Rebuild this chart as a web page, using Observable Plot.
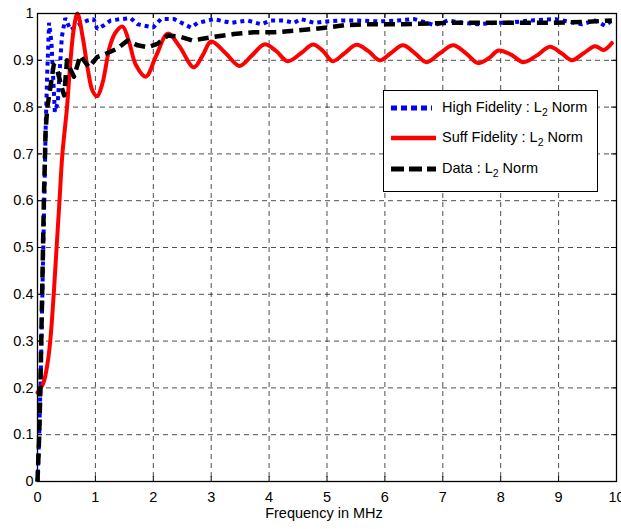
<!DOCTYPE html>
<html>
<head>
<meta charset="utf-8">
<script src="https://cdn.jsdelivr.net/npm/d3@7"></script>
<script src="https://cdn.jsdelivr.net/npm/@observablehq/plot@0.6"></script>
<style>
  html, body { margin: 0; padding: 0; background: #fff; }
  #wrap { position: relative; width: 621px; height: 529px; font-family: "Liberation Sans", Arial, sans-serif; }
  #legend { position: absolute; left: 383px; top: 90px; width: 213px; height: 100px; border: 1px solid #000; background: #fff; font-size: 14.5px; color: #000; }
  .row { position: absolute; left: 0; height: 20px; width: 213px; }
  .row svg { position: absolute; left: 7px; top: 5px; }
  .row span { position: absolute; left: 58px; top: 1px; white-space: nowrap; }
  sub { font-size: 0.72em; vertical-align: -0.35em; line-height: 0; }
</style>
</head>
<body>
<div id="wrap"></div>
<script>
// ---- Data ----
const seriesNames = ["High Fidelity : L2 Norm", "Suff Fidelity : L2 Norm", "Data : L2 Norm"];

const highFreq = [0,0.03,0.06,0.1,0.14,0.17,0.2,0.24,0.3,0.35,0.42,0.48,0.57,0.7,0.86,0.97,1.03,1.15,1.26,1.44,1.61,1.73,2.0,2.13,2.36,2.65,2.77,3.05,3.34,3.63,3.86,4.03,4.26,4.43,4.55,4.78,5.0,5.25,5.53,5.9,6.2,6.51,6.86,7.09,7.35,7.61,7.9,8.13,8.5,8.94,9.2,9.4,9.63,9.8,9.92];
const highVal  = [0,0.1,0.25,0.5,0.75,0.88,0.98,0.94,0.79,0.81,0.95,0.99,0.965,0.975,0.985,0.988,0.967,0.975,0.985,0.988,0.99,0.977,0.97,0.988,0.988,0.97,0.98,0.988,0.98,0.985,0.977,0.985,0.985,0.98,0.988,0.98,0.983,0.985,0.985,0.983,0.985,0.988,0.975,0.985,0.98,0.977,0.98,0.98,0.985,0.988,0.982,0.977,0.985,0.974,0.985];

const suffFreq = [0,0.1,0.17,0.22,0.28,0.33,0.38,0.43,0.51,0.57,0.63,0.69,0.78,0.87,0.95,1.03,1.12,1.25,1.35,1.47,1.58,1.7,1.87,2.05,2.25,2.45,2.7,2.85,3.0,3.25,3.49,3.7,3.92,4.12,4.32,4.55,4.76,4.93,5.1,5.3,5.51,5.71,5.91,6.1,6.31,6.52,6.72,6.95,7.18,7.4,7.61,7.8,7.96,8.18,8.39,8.62,8.85,9.05,9.23,9.43,9.63,9.78,9.92];
const suffVal  = [0.19,0.21,0.25,0.3,0.4,0.5,0.6,0.7,0.8,0.9,0.97,1.0,0.95,0.88,0.835,0.823,0.85,0.93,0.96,0.972,0.94,0.89,0.865,0.91,0.957,0.93,0.885,0.91,0.94,0.915,0.888,0.91,0.934,0.92,0.898,0.915,0.934,0.92,0.898,0.915,0.933,0.92,0.9,0.915,0.932,0.915,0.896,0.915,0.932,0.915,0.894,0.905,0.921,0.912,0.896,0.91,0.929,0.915,0.9,0.915,0.93,0.922,0.937];

const dataFreq = [0,0.03,0.05,0.08,0.11,0.14,0.17,0.22,0.28,0.34,0.4,0.46,0.51,0.57,0.63,0.74,0.89,1.03,1.2,1.38,1.55,1.73,1.9,2.07,2.25,2.47,2.68,2.85,3.05,3.39,3.74,4.09,4.43,4.78,5.0,5.3,5.7,6.3,7.1,8.0,8.9,9.4,9.92];
const dataVal  = [0,0.1,0.2,0.4,0.6,0.75,0.8,0.84,0.89,0.88,0.85,0.825,0.9,0.88,0.865,0.91,0.885,0.907,0.915,0.925,0.942,0.932,0.928,0.935,0.953,0.95,0.942,0.946,0.95,0.956,0.96,0.96,0.963,0.967,0.97,0.975,0.977,0.977,0.98,0.98,0.98,0.982,0.985];

const xTicks = [0,1,2,3,4,5,6,7,8,9,10];
const yTicks = [0,0.1,0.2,0.3,0.4,0.5,0.6,0.7,0.8,0.9,1];
const xLabel = "Frequency in MHz";

const toRows = (xs, ys) => xs.map((x, i) => ({x, y: ys[i]}));
const high = toRows(highFreq, highVal);
const suff = toRows(suffFreq, suffVal);
const dat  = toRows(dataFreq, dataVal);

const W = 621, H = 529, mL = 37, mR = 5, mT = 13, mB = 48;
const innerW = W - mL - mR, innerH = H - mT - mB;
const gridStyle = {stroke: "#222", strokeWidth: 0.8, strokeDasharray: "5,4"};

const chart = Plot.plot({
  width: W, height: H,
  marginLeft: mL, marginRight: mR, marginTop: mT, marginBottom: mB,
  style: {fontFamily: "'Liberation Sans', Arial, sans-serif", fontSize: "14.5px", background: "#fff", color: "#000"},
  x: {domain: [0, 10]},
  y: {domain: [0, 1]},
  marks: [
    Plot.ruleX(xTicks.filter(d => d > 0 && d < 10), {x: d => d, ...gridStyle}),
    Plot.ruleY(yTicks.filter(d => d > 0 && d < 1), {y: d => d, ...gridStyle}),
    // inward tick marks (MATLAB style) on all four sides
    Plot.ruleX(xTicks, {x: d => d, insetTop: innerH - 5, stroke: "#000", strokeWidth: 1}),
    Plot.ruleX(xTicks, {x: d => d, insetBottom: innerH - 5, stroke: "#000", strokeWidth: 1}),
    Plot.ruleY(yTicks, {y: d => d, insetRight: innerW - 5, stroke: "#000", strokeWidth: 1}),
    Plot.ruleY(yTicks, {y: d => d, insetLeft: innerW - 5, stroke: "#000", strokeWidth: 1}),
    Plot.line(high, {x: "x", y: "y", stroke: "#0000ff", strokeWidth: 4, strokeDasharray: "4,4", strokeLinejoin: "miter", strokeLinecap: "butt"}),
    Plot.line(suff, {x: "x", y: "y", stroke: "#ff0000", strokeWidth: 4, curve: "catmull-rom"}),
    Plot.line(dat, {x: "x", y: "y", stroke: "#000000", strokeWidth: 4.5, strokeDasharray: "11,6", strokeLinecap: "butt"}),
    Plot.frame({stroke: "#000", strokeWidth: 1.3}),
    Plot.axisX(xTicks, {tickSize: 0, tickPadding: 10, tickFormat: d => String(d), label: null}),
    Plot.axisY(yTicks, {tickSize: 0, tickPadding: 4, tickFormat: d => String(d), label: null}),
    Plot.text([xLabel], {frameAnchor: "bottom", dy: 36, dx: -3, text: d => d, fill: "#000"})
  ]
});

const wrap = document.getElementById("wrap");
wrap.appendChild(chart);

// Legend (HTML overlay, MATLAB style box)
const legend = document.createElement("div");
legend.id = "legend";
const styles = [
  {stroke: "#0000ff", width: 5, dash: "6,4", top: 7},
  {stroke: "#ff0000", width: 4.5, dash: null, top: 37},
  {stroke: "#000000", width: 5, dash: "13,5", top: 68}
];
seriesNames.forEach((name, i) => {
  const s = styles[i];
  const row = document.createElement("div");
  row.className = "row";
  row.style.top = s.top + "px";
  const parts = name.split("L2");
  row.innerHTML =
    `<svg width="46" height="10"><line x1="0" y1="5" x2="${i === 0 ? 41 : 45}" y2="5" stroke="${s.stroke}" stroke-width="${s.width}" ${s.dash ? `stroke-dasharray="${s.dash}"` : ""}/></svg>` +
    `<span>${parts[0]}L<sub>2</sub>${parts[1]}</span>`;
  legend.appendChild(row);
});
wrap.appendChild(legend);
</script>
</body>
</html>
